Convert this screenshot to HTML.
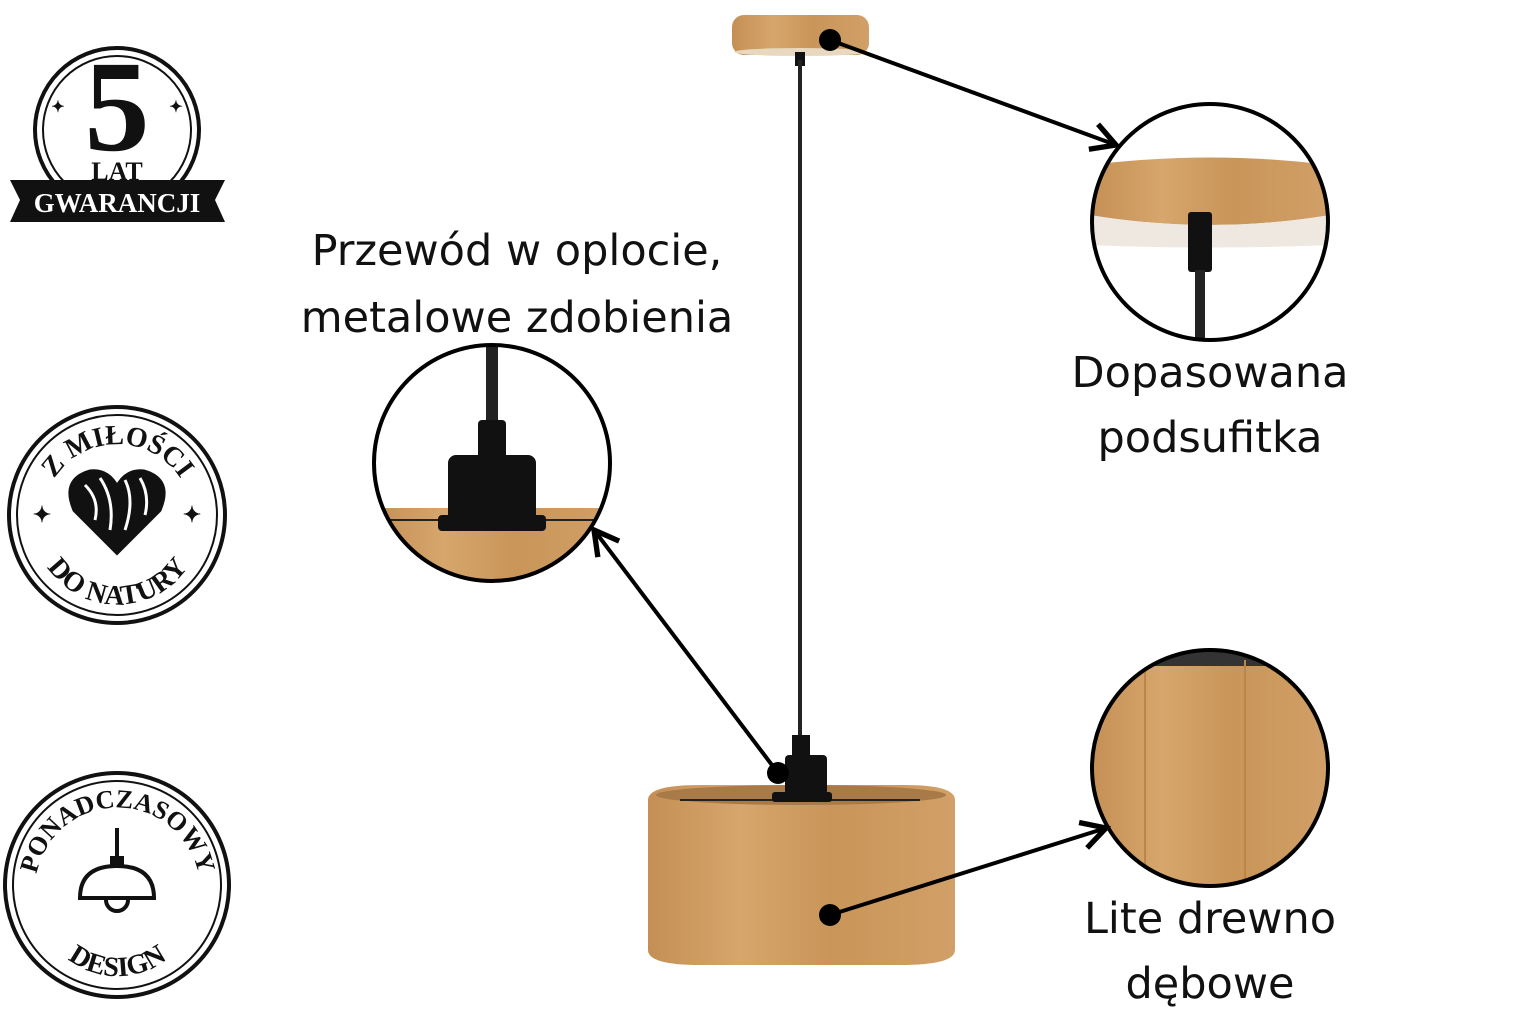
<!DOCTYPE html>
<html><head><meta charset="utf-8"><style>
html,body{margin:0;padding:0;background:#fff;}
svg{display:block}
text{font-family:"DejaVu Sans","Liberation Sans",sans-serif;fill:#111}
.b{font-family:"Liberation Serif",serif;font-weight:bold;fill:#111}
</style></head><body>
<svg width="1536" height="1024" viewBox="0 0 1536 1024" xmlns="http://www.w3.org/2000/svg">
<defs>
<linearGradient id="w" x1="0" x2="1">
<stop offset="0" stop-color="#c48f55"/><stop offset=".3" stop-color="#d6a66c"/><stop offset=".6" stop-color="#c99558"/><stop offset="1" stop-color="#d1a068"/>
</linearGradient>
<marker id="ah" viewBox="0 0 12 12" refX="10" refY="6" markerWidth="8" markerHeight="8" orient="auto"><path d="M1,1 L10,6 L1,11" fill="none" stroke="#000" stroke-width="2"/></marker>
<clipPath id="c1"><circle cx="1210" cy="222" r="118"/></clipPath>
<clipPath id="c2"><circle cx="492" cy="463" r="118"/></clipPath>
<clipPath id="c3"><circle cx="1210" cy="768" r="118"/></clipPath>
</defs>
<rect x="732" y="15" width="137" height="40" rx="12" fill="url(#w)"/>
<ellipse cx="800" cy="52" rx="66" ry="4" fill="#e8d8c0"/>
<rect x="795" y="52" width="10" height="14" fill="#111"/>
<line x1="800" y1="60" x2="800" y2="740" stroke="#222" stroke-width="4"/>
<path d="M648,800 Q648,785 700,785 L905,785 Q955,785 955,800 L955,950 Q955,965 900,965 L700,965 Q648,965 648,950 Z" fill="url(#w)"/>
<ellipse cx="801" cy="795" rx="145" ry="10" fill="#a87a48"/>
<line x1="680" y1="800" x2="920" y2="800" stroke="#222" stroke-width="2"/>
<rect x="785" y="755" width="42" height="40" rx="4" fill="#111"/>
<rect x="792" y="735" width="18" height="22" fill="#111"/>
<rect x="772" y="792" width="60" height="10" rx="3" fill="#111"/>
<g clip-path="url(#c1)"><rect x="1090" y="100" width="240" height="240" fill="#fff"/>
<path d="M1090,165 Q1210,150 1330,165 L1330,215 Q1210,235 1090,215 Z" fill="url(#w)"/>
<path d="M1090,215 Q1210,235 1330,215 L1330,245 Q1210,250 1090,245 Z" fill="#eee8e0"/>
<rect x="1188" y="212" width="24" height="60" rx="3" fill="#111"/><rect x="1195" y="270" width="10" height="80" fill="#222"/></g>
<circle cx="1210" cy="222" r="118" fill="none" stroke="#000" stroke-width="4"/>
<g clip-path="url(#c2)"><rect x="372" y="345" width="240" height="240" fill="#fff"/>
<rect x="372" y="508" width="240" height="80" fill="url(#w)"/>
<line x1="372" y1="520" x2="612" y2="520" stroke="#222" stroke-width="2"/>
<rect x="486" y="345" width="12" height="80" fill="#222"/>
<rect x="478" y="420" width="28" height="40" rx="4" fill="#111"/>
<rect x="448" y="455" width="88" height="70" rx="8" fill="#111"/>
<rect x="438" y="515" width="108" height="16" rx="4" fill="#111"/></g>
<circle cx="492" cy="463" r="118" fill="none" stroke="#000" stroke-width="4"/>
<g clip-path="url(#c3)"><rect x="1090" y="648" width="240" height="240" fill="url(#w)"/>
<rect x="1090" y="648" width="240" height="18" fill="#333"/>
<line x1="1145" y1="660" x2="1145" y2="890" stroke="#b98549" stroke-width="2"/>
<line x1="1245" y1="660" x2="1245" y2="890" stroke="#b98549" stroke-width="2"/></g>
<circle cx="1210" cy="768" r="118" fill="none" stroke="#000" stroke-width="4"/>
<line x1="830" y1="40" x2="1116" y2="145" stroke="#000" stroke-width="4" marker-end="url(#ah)"/>
<line x1="778" y1="773" x2="594" y2="530" stroke="#000" stroke-width="4" marker-end="url(#ah)"/>
<line x1="830" y1="915" x2="1106" y2="828" stroke="#000" stroke-width="4" marker-end="url(#ah)"/>
<circle cx="830" cy="40" r="11" fill="#000"/><circle cx="778" cy="773" r="11" fill="#000"/><circle cx="830" cy="915" r="11" fill="#000"/>
<g font-size="43" text-anchor="middle">
<text x="517" y="265">Przewód w oplocie,</text>
<text x="517" y="332">metalowe zdobienia</text>
<text x="1210" y="387">Dopasowana</text>
<text x="1210" y="452">podsufitka</text>
<text x="1210" y="933">Lite drewno</text>
<text x="1210" y="998">dębowe</text>
</g>
<circle cx="117" cy="130" r="82" fill="none" stroke="#111" stroke-width="4"/>
<circle cx="117" cy="130" r="74" fill="none" stroke="#111" stroke-width="2"/>
<text class="b" x="117" y="150" font-size="130" text-anchor="middle">5</text>
<text class="b" x="58" y="112" font-size="16" text-anchor="middle">✦</text><text class="b" x="176" y="112" font-size="16" text-anchor="middle">✦</text>
<text class="b" x="117" y="180" font-size="26" text-anchor="middle">LAT</text>
<path d="M10,180 L225,180 L215,200 L225,222 L10,222 L20,200 Z" fill="#111"/>
<text class="b" x="117" y="212" font-size="27" text-anchor="middle" style="fill:#fff">GWARANCJI</text>
<circle cx="117" cy="515" r="108" fill="none" stroke="#111" stroke-width="4"/>
<circle cx="117" cy="515" r="100" fill="none" stroke="#111" stroke-width="2"/>
<path id="t1" d="M45,500 A75,75 0 0 1 190,500" fill="none"/>
<text class="b" font-size="28"><textPath href="#t1" startOffset="50%" text-anchor="middle">Z MIŁOŚCI</textPath></text>
<path id="t2" d="M35,540 A85,85 0 0 0 200,540" fill="none"/>
<text class="b" font-size="28"><textPath href="#t2" startOffset="50%" text-anchor="middle">DO NATURY</textPath></text>
<path d="M117,552 L75,510 Q62,480 90,472 Q108,470 117,488 Q126,470 144,472 Q172,480 159,510 Z" fill="#111" stroke="#111" stroke-width="5"/>
<path d="M85,485 Q100,500 95,520 M100,478 Q115,500 110,530 M125,480 Q135,500 125,530 M140,478 Q150,495 145,515" fill="none" stroke="#fff" stroke-width="3"/>
<text class="b" x="42" y="522" font-size="22" text-anchor="middle">✦</text><text class="b" x="192" y="522" font-size="22" text-anchor="middle">✦</text>
<circle cx="117" cy="885" r="112" fill="none" stroke="#111" stroke-width="4"/>
<circle cx="117" cy="885" r="104" fill="none" stroke="#111" stroke-width="2"/>
<path id="t3" d="M35,890 A82,82 0 0 1 200,890" fill="none"/>
<text class="b" font-size="26"><textPath href="#t3" startOffset="50%" text-anchor="middle">PONADCZASOWY</textPath></text>
<path id="t4" d="M45,930 A80,80 0 0 0 190,930" fill="none"/>
<text class="b" font-size="28"><textPath href="#t4" startOffset="50%" text-anchor="middle">DESIGN</textPath></text>
<line x1="117" y1="828" x2="117" y2="858" stroke="#111" stroke-width="4"/>
<rect x="110" y="856" width="14" height="10" fill="#111"/>
<path d="M80,898 Q80,866 117,866 Q154,866 154,898 Z" fill="none" stroke="#111" stroke-width="4"/>
<path d="M106,900 A11,11 0 0 0 128,900" fill="none" stroke="#111" stroke-width="4"/>
</svg>
</body></html>
